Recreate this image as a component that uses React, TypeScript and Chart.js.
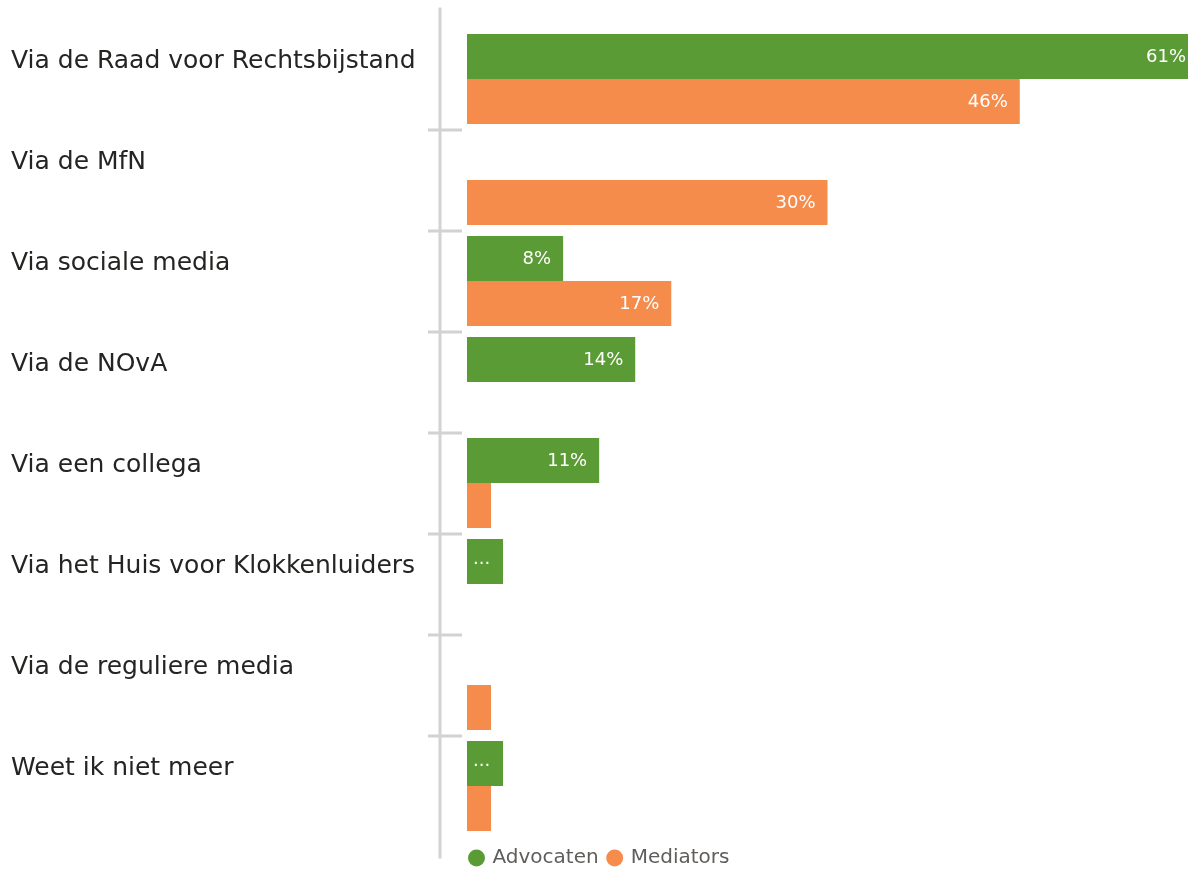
import React, { useEffect, useRef } from "react";
import { Chart, registerables } from "chart.js";

Chart.register(...registerables);

const categories = [
  "Via de Raad voor Rechtsbijstand",
  "Via de MfN",
  "Via sociale media",
  "Via de NOvA",
  "Via een collega",
  "Via het Huis voor Klokkenluiders",
  "Via de reguliere media",
  "Weet ik niet meer",
];
const advocaten = [61, null, 8, 14, 11, 3, null, 3];
const mediators = [46, 30, 17, null, 2, null, 2, 2];
const seriesNames = ["Advocaten", "Mediators"];
const seriesColors = ["#5B9B36", "#F58C4C"];

const FONT = "'DejaVu Sans', sans-serif";

const axisPlugin = {
  id: "axisDecor",
  beforeDatasetsDraw(chart: any) {
    const { ctx, chartArea, scales } = chart;
    const y = scales.y;
    const ax = chartArea.left - 27;
    ctx.save();
    ctx.strokeStyle = "#D2D2D2";
    ctx.lineWidth = 3;
    ctx.beginPath();
    ctx.moveTo(ax, chartArea.top - 21);
    ctx.lineTo(ax, chartArea.bottom + 22);
    for (let i = 1; i < categories.length; i++) {
      const yy = Math.round((y.getPixelForTick(i - 1) + y.getPixelForTick(i)) / 2);
      ctx.moveTo(ax - 12, yy);
      ctx.lineTo(ax + 22, yy);
    }
    ctx.stroke();
    ctx.restore();
  },
};

const labelPlugin = {
  id: "barLabels",
  afterDatasetsDraw(chart: any) {
    const { ctx, chartArea } = chart;
    ctx.save();
    ctx.fillStyle = "#FFFFFF";
    ctx.font = "18px " + FONT;
    ctx.textBaseline = "middle";
    chart.data.datasets.forEach((ds: any, di: number) => {
      const meta = chart.getDatasetMeta(di);
      meta.data.forEach((bar: any, i: number) => {
        const v = ds.data[i];
        if (v == null) return;
        const w = Math.min(bar.x, chartArea.right) - bar.base;
        if (w >= 60) {
          ctx.textAlign = "right";
          const xr = Math.min(bar.x - 12, chartArea.right - 2);
          ctx.fillText(Math.round(v) + "%", xr, bar.y + 1);
        } else if (w >= 30) {
          ctx.textAlign = "left";
          ctx.fillText("...", bar.base + 6, bar.y - 2);
        }
      });
    });
    ctx.restore();
  },
};

const legendShift = {
  id: "legendShift",
  afterLayout(chart: any) {
    const lg = chart.legend;
    if (lg) {
      lg.left = chart.chartArea.left - 6.5;
      lg.top = lg.top + 1.5;
    }
  },
};

export default function App() {
  const ref = useRef<HTMLCanvasElement>(null);
  useEffect(() => {
    if (!ref.current) return;
    const chart = new Chart(ref.current, {
      type: "bar",
      data: {
        labels: categories,
        datasets: [
          {
            label: seriesNames[0],
            data: advocaten as any,
            backgroundColor: seriesColors[0],
            borderWidth: 0,
            categoryPercentage: 0.89,
            barPercentage: 1,
          },
          {
            label: seriesNames[1],
            data: mediators as any,
            backgroundColor: seriesColors[1],
            borderWidth: 0,
            categoryPercentage: 0.89,
            barPercentage: 1,
          },
        ],
      },
      options: {
        indexAxis: "y",
        responsive: false,
        animation: false,
        layout: { padding: { top: 28.5, left: 11, right: 0, bottom: -7.5 } },
        scales: {
          x: { display: false, min: 0, max: 60 },
          y: {
            grid: { display: false },
            border: { display: false },
            afterFit: (s: any) => {
              s.width = 456;
            },
            ticks: {
              crossAlign: "far",
              labelOffset: -18,
              color: "#252423",
              font: { family: FONT, size: 25 },
            },
          },
        },
        plugins: {
          legend: {
            display: true,
            position: "bottom",
            align: "start",
            labels: {
              usePointStyle: true,
              pointStyle: "circle",
              boxWidth: 12,
              boxHeight: 12,
              padding: 10,
              color: "#605E5C",
              font: { family: FONT, size: 20 },
            },
          },
          tooltip: { enabled: false },
        },
      },
      plugins: [axisPlugin, labelPlugin, legendShift],
    });
    return () => chart.destroy();
  }, []);
  return (
    <div style={{ position: "fixed", left: 0, top: 0, width: 1188, height: 869, background: "#fff" }}>
      <canvas ref={ref} width={1188} height={869} style={{ display: "block" }} />
    </div>
  );
}
